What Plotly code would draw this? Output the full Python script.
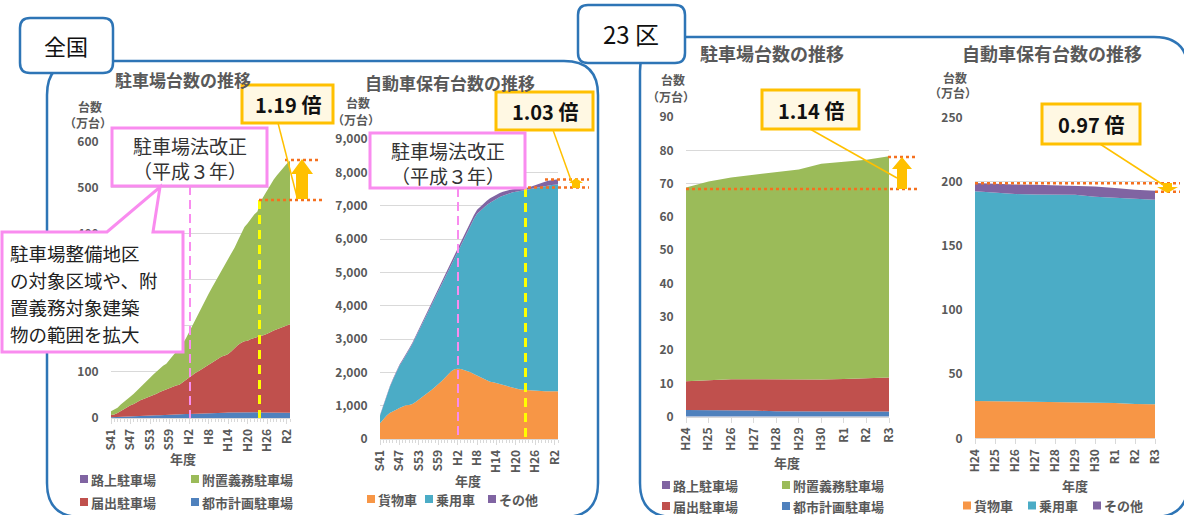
import plotly.graph_objects as go

W, H = 1184, 515
FONT = "Noto Sans CJK JP"
GRAY = "#595959"
GRID = "#D9D9D9"
PINK = "#F98CEF"
BLUE_FRAME = "#2E75B6"
GOLD = "#FFC000"
ORANGE_DOT = "#F5701F"

# ---------------- data ----------------
years = list(range(1966, 2022))            # S41 .. R3
era_tick_years = [1966, 1972, 1978, 1984, 1990, 1996, 2002, 2008, 2014, 2020]
era_tick_labels = ["S41", "S47", "S53", "S59", "H2", "H8", "H14", "H20", "H26", "R2"]
# y tick labels of the national parking chart (200 and 300 sit under the call-out box)
nat_park_ticks = [0, 100, 200, 300, 400, 500, 600]
nat_park_ticklabels = ["0", "100", "", "", "400", "500", "600"]

# 全国 駐車場台数 (万台)
nat_rojo = [0.1, 0.1, 0.1, 0.1, 0.1, 0.1, 0.1, 0.1, 0.1, 0.1, 0.1, 0.1, 0.1, 0.1,
            0.1, 0.1, 0.1, 0.1, 0.1, 0.1, 0.1, 0.1, 0.1, 0.1, 0.1, 0.1, 0.1, 0.1,
            0.1, 0.1, 0.1, 0.1, 0.1, 0.1, 0.1, 0.1, 0.1, 0.1, 0.1, 0.1, 0.1, 0.1,
            0.1, 0.1, 0.1, 0.1, 0.1, 0.1, 0.1, 0.1, 0.1, 0.1, 0.1, 0.1, 0.1, 0.1]
nat_toshi = [1.5, 1.7, 2.0, 2.4, 2.6, 3.1, 3.3, 3.5, 3.9, 4.3, 4.4, 4.8, 5.2, 5.3,
             5.6, 6.1, 6.2, 6.6, 7.0, 7.1, 7.4, 7.9, 8.0, 8.4, 8.8, 8.9, 9.2, 9.7,
             9.8, 10.2, 10.6, 10.7, 11.0, 11.3, 11.4, 11.5, 11.8, 12.0, 12.1, 12.3, 12.3, 12.4,
             12.5, 12.4, 12.3, 12.2, 12.1, 12.0, 11.9, 11.8, 11.6, 11.6, 11.5, 11.4, 11.4, 11.3]
nat_todokede = [5, 6, 9, 13, 16, 20, 24, 27, 31, 34, 37, 39, 42, 45, 47, 50, 53, 55, 58, 61,
                63, 64, 69, 75, 79, 84, 89, 92, 97, 101, 105, 109, 113, 117, 122, 124, 127,
                133, 140, 146, 151, 154, 155, 159, 161, 163, 165, 168, 171, 175, 178, 181,
                184, 186, 189, 192]
nat_fuchi = [8, 10, 11, 14, 16, 18, 19, 22, 25, 28, 32, 36, 40, 44, 48, 52, 54, 56, 61, 67,
             73, 80, 84, 89, 99, 107, 117, 128, 136, 145, 154, 163, 171, 179, 187, 196, 205,
             211, 218, 227, 237, 248, 255, 261, 268, 273, 293, 302, 311, 321, 328, 334, 340,
             346, 351, 355]

# 全国 自動車保有台数 (万台)
nat_kamotsu = [470, 600, 700, 780, 840, 880, 930, 970, 1010, 1020, 1050, 1110, 1180, 1250,
               1320, 1400, 1480, 1560, 1640, 1730, 1830, 1930, 2030, 2090, 2110, 2100, 2070,
               2040, 2000, 1950, 1900, 1850, 1800, 1760, 1720, 1700, 1680, 1650, 1620, 1600,
               1570, 1540, 1510, 1490, 1480, 1470, 1460, 1450, 1445, 1440, 1435, 1430, 1430,
               1430, 1430, 1430]
nat_joyo = [230, 400, 580, 770, 940, 1120, 1270, 1380, 1490, 1660, 1800, 1940, 2070, 2200,
            2330, 2450, 2570, 2690, 2810, 2920, 3020, 3070, 3220, 3360, 3540, 3750, 3980,
            4190, 4400, 4650, 4860, 5000, 5150, 5260, 5370, 5450, 5530, 5610, 5680, 5740,
            5800, 5860, 5910, 5950, 5980, 6000, 6030, 6060, 6085, 6110, 6135, 6160, 6180,
            6190, 6200, 6210]
nat_sonota = [20, 20, 25, 25, 30, 30, 30, 35, 35, 35, 40, 40, 40, 45, 45, 45, 50, 50, 50, 55,
              55, 60, 60, 65, 70, 75, 80, 90, 100, 110, 120, 125, 130, 130, 130, 130, 125,
              120, 115, 110, 100, 90, 80, 70, 65, 60, 55, 70, 90, 110, 120, 130, 140, 145,
              150, 150]

# 23区
ku_years = ["H24", "H25", "H26", "H27", "H28", "H29", "H30", "R1", "R2", "R3"]
ku_rojo = [0.04, 0.04, 0.04, 0.04, 0.04, 0.04, 0.04, 0.04, 0.04, 0.04]
ku_toshi = [2.0, 2.0, 1.9, 1.8, 1.6, 1.5, 1.5, 1.5, 1.5, 1.5]
ku_todokede = [8.6, 8.9, 9.3, 9.4, 9.5, 9.5, 9.6, 9.8, 10.1, 10.2]
ku_fuchi = [58.2, 59.7, 60.6, 61.4, 62.3, 63.2, 64.8, 65.1, 65.5, 66.5]

ku_kamotsu = [29.1, 28.9, 28.7, 28.5, 28.3, 28.0, 27.8, 27.5, 26.8, 26.6]
ku_joyo = [163.6, 162.6, 161.8, 161.6, 161.7, 161.9, 160.7, 160.0, 159.8, 159.4]
ku_sonota = [6.5, 7.0, 7.5, 7.7, 7.5, 7.3, 8.0, 7.7, 7.2, 7.0]

callout_lines = ["駐車場整備地区", "の対象区域や、附", "置義務対象建築", "物の範囲を拡大"]

C_ROJO, C_FUCHI, C_TODO, C_TOSHI = "#8064A2", "#9BBB59", "#C0504D", "#4F81BD"
C_KAMO, C_JOYO, C_SONO = "#F79646", "#4BACC6", "#8064A2"

# ---------------- helpers ----------------
def px(x, y):
    return x / W, 1 - y / H

def rect(x0, y0, x1, y1, line=None, fill=None, lw=2.5, dash=None):
    a, b = px(x0, y1)
    c, d = px(x1, y0)
    ln = dict(color=line or "rgba(0,0,0,0)", width=lw if line else 0)
    if dash:
        ln["dash"] = dash
    return dict(type="rect", xref="paper", yref="paper", x0=a, y0=b, x1=c, y1=d,
                line=ln, fillcolor=fill or "rgba(0,0,0,0)", layer="above")

def seg(x0, y0, x1, y1, color, lw=2, dash=None):
    a, b = px(x0, y0)
    c, d = px(x1, y1)
    ln = dict(color=color, width=lw)
    if dash:
        ln["dash"] = dash
    return dict(type="line", xref="paper", yref="paper", x0=a, y0=b, x1=c, y1=d,
                line=ln, layer="above")

def pt(x, y):
    a, b = px(x, y)
    return f"{a:.5f},{b:.5f}"

def poly(points, line, fill, lw=2.5):
    p = "M " + " L ".join(pt(x, y) for x, y in points) + " Z"
    return dict(type="path", xref="paper", yref="paper", path=p,
                line=dict(color=line or "rgba(0,0,0,0)", width=lw if line else 0),
                fillcolor=fill or "rgba(0,0,0,0)", layer="above")

def rrect(x0, y0, x1, y1, r, line, fill, lw=2.5):
    p = (f"M {pt(x0 + r, y0)} L {pt(x1 - r, y0)} Q {pt(x1, y0)} {pt(x1, y0 + r)} "
         f"L {pt(x1, y1 - r)} Q {pt(x1, y1)} {pt(x1 - r, y1)} "
         f"L {pt(x0 + r, y1)} Q {pt(x0, y1)} {pt(x0, y1 - r)} "
         f"L {pt(x0, y0 + r)} Q {pt(x0, y0)} {pt(x0 + r, y0)} Z")
    return dict(type="path", xref="paper", yref="paper", path=p,
                line=dict(color=line, width=lw), fillcolor=fill or "rgba(0,0,0,0)",
                layer="above")

annotations = []

def text(x, y, s, size=13, color=GRAY, bold=False, xanchor="center", align="center"):
    a, b = px(x, y)
    annotations.append(dict(x=a, y=b, xref="paper", yref="paper", text=(f"<b>{s}</b>" if bold else s),
                            showarrow=False, xanchor=xanchor, yanchor="middle", align=align,
                            borderpad=0,
                            font=dict(family=FONT, size=size, color=color)))

# ---------------- figure ----------------
fig = go.Figure()

def area(x, y, name, color, xa, ya, group):
    fig.add_trace(go.Scatter(x=x, y=y, name=name, mode="lines", stackgroup=group,
                             line=dict(width=0, color=color), fillcolor=color,
                             xaxis=xa, yaxis=ya, showlegend=False, hoverinfo="skip"))

area(years, nat_rojo, "路上駐車場", C_ROJO, "x", "y", "g1")
area(years, nat_toshi, "都市計画駐車場", C_TOSHI, "x", "y", "g1")
area(years, nat_todokede, "届出駐車場", C_TODO, "x", "y", "g1")
area(years, nat_fuchi, "附置義務駐車場", C_FUCHI, "x", "y", "g1")

area(years, nat_kamotsu, "貨物車", C_KAMO, "x2", "y2", "g2")
area(years, nat_joyo, "乗用車", C_JOYO, "x2", "y2", "g2")
area(years, nat_sonota, "その他", C_SONO, "x2", "y2", "g2")

area(ku_years, ku_rojo, "路上駐車場", C_ROJO, "x3", "y3", "g3")
area(ku_years, ku_toshi, "都市計画駐車場", C_TOSHI, "x3", "y3", "g3")
area(ku_years, ku_todokede, "届出駐車場", C_TODO, "x3", "y3", "g3")
area(ku_years, ku_fuchi, "附置義務駐車場", C_FUCHI, "x3", "y3", "g3")

area(ku_years, ku_kamotsu, "貨物車", C_KAMO, "x4", "y4", "g4")
area(ku_years, ku_joyo, "乗用車", C_JOYO, "x4", "y4", "g4")
area(ku_years, ku_sonota, "その他", C_SONO, "x4", "y4", "g4")

tickfont = dict(family=FONT, size=12, color=GRAY, weight="bold")

def xaxis_era(dom, anchor):
    return dict(domain=dom, anchor=anchor, range=[1966, 2021], tickmode="array",
                tickvals=era_tick_years, ticktext=era_tick_labels, tickangle=-90,
                ticks="outside", ticklen=5, tickcolor=GRID, showline=True, linecolor=GRID,
                showgrid=False, zeroline=False, tickfont=tickfont, automargin=False,
                minor=dict(tickmode="linear", tick0=1966, dtick=1, ticks="outside",
                           ticklen=3, tickcolor=GRID, showgrid=False))

def xaxis_ku(dom, anchor):
    return dict(domain=dom, anchor=anchor, type="category", range=[0, 9], tickangle=-90,
                ticks="outside", ticklen=5, tickcolor=GRID, showline=True, linecolor=GRID,
                showgrid=False, zeroline=False, tickfont=tickfont, automargin=False)

def yaxis(dom, anchor, rng, dtick, fmt=None):
    d = dict(domain=dom, anchor=anchor, range=rng, dtick=dtick, showgrid=True,
             gridcolor=GRID, gridwidth=1, zeroline=False, showline=False, automargin=False,
             ticks="outside", ticklen=9, tickcolor="rgba(0,0,0,0)", tickfont=tickfont)
    if fmt:
        d["tickformat"] = fmt
    return d

y1 = yaxis([1 - 418 / H, 1 - 141.5 / H], "x", [0, 600], 100)
y1.update(tickmode="array", tickvals=nat_park_ticks, ticktext=nat_park_ticklabels)

fig.update_layout(
    width=W, height=H, autosize=False,
    margin=dict(l=0, r=0, t=0, b=0, pad=0, autoexpand=False),
    paper_bgcolor="white", plot_bgcolor="white",
    showlegend=False,
    xaxis=xaxis_era([111 / W, 290 / W], "y"),
    yaxis=y1,
    xaxis2=xaxis_era([380 / W, 558 / W], "y2"),
    yaxis2=yaxis([1 - 439 / H, 1 - 139 / H], "x2", [0, 9000], 1000, ","),
    xaxis3=xaxis_ku([686 / W, 889 / W], "y3"),
    yaxis3=yaxis([1 - 416.7 / H, 1 - 117 / H], "x3", [0, 90], 10),
    xaxis4=xaxis_ku([975 / W, 1155 / W], "y4"),
    yaxis4=yaxis([1 - 438.3 / H, 1 - 117.8 / H], "x4", [0, 250], 50),
)

shapes = []
# frames
shapes.append(rrect(47, 61, 598, 517, 34, BLUE_FRAME, None, 2.5))
shapes.append(rrect(640, 37, 1188, 517, 34, BLUE_FRAME, None, 2.5))
shapes.append(rrect(20, 18, 113, 73, 10, BLUE_FRAME, "white", 2.5))
shapes.append(rrect(578, 5, 685, 63, 10, BLUE_FRAME, "white", 2.5))

# dashed markers
shapes.append(seg(190, 186, 190, 418, PINK, 2, "9px,5px"))
shapes.append(seg(458, 188, 458, 439, PINK, 2, "9px,5px"))
shapes.append(seg(259.5, 200, 259.5, 418, "#FFFF00", 3, "9px,6px"))
shapes.append(seg(525.5, 188, 525.5, 439, "#FFFF00", 3, "9px,6px"))

# dotted reference lines
shapes.append(seg(285, 160, 320, 160, ORANGE_DOT, 2.5, "dot"))
shapes.append(seg(259, 200, 322, 200, ORANGE_DOT, 2.5, "dot"))
shapes.append(seg(545, 179.5, 589, 179.5, ORANGE_DOT, 2.5, "dot"))
shapes.append(seg(528, 187.5, 589, 187.5, ORANGE_DOT, 2.5, "dot"))
shapes.append(seg(888, 157, 918, 157, ORANGE_DOT, 2.5, "dot"))
shapes.append(seg(686, 189, 918, 189, ORANGE_DOT, 2.5, "dot"))
shapes.append(seg(975, 183.3, 1180, 183.3, ORANGE_DOT, 2.5, "dot"))
shapes.append(seg(1155, 191.7, 1180, 191.7, ORANGE_DOT, 2.5, "dot"))

# leader lines
shapes.append(seg(278, 123, 297, 197, GOLD, 1.5))
shapes.append(seg(553, 130, 572, 183, GOLD, 1.5))
shapes.append(seg(810, 129, 897, 178, GOLD, 1.5))
shapes.append(seg(1100, 144, 1165, 186, GOLD, 1.5))

# arrows
shapes.append(poly([(302, 159), (313, 174), (308, 174), (308, 199), (296, 199), (296, 174), (291, 174)], None, GOLD))
shapes.append(poly([(902, 157), (912, 169), (907, 169), (907, 189), (897, 189), (897, 169), (892, 169)], None, GOLD))
shapes.append(poly([(576, 178), (583, 183), (580, 183), (580, 188), (572, 188), (572, 183), (569, 183)], None, GOLD))
shapes.append(poly([(1163, 183), (1172, 183), (1172, 187), (1178, 187), (1167.5, 193), (1157, 187), (1163, 187)], None, GOLD))

# multiplier boxes
shapes.append(rect(242, 85, 333, 123, GOLD, "#FFF8E3", 3))
shapes.append(rect(496, 92, 593, 130, GOLD, "#FFF8E3", 3))
shapes.append(rect(762, 90, 859, 129, GOLD, "#FFF8E3", 3))
shapes.append(rect(1042, 104, 1140, 144, GOLD, "#FFF8E3", 3))

# pink boxes
shapes.append(rect(112, 128, 267, 186, PINK, "white", 3))
shapes.append(rect(370, 133, 525, 188, PINK, "white", 3))
shapes.append(poly([(2, 232), (107, 232), (160, 187), (153, 232), (183, 232), (183, 352), (2, 352)], PINK, "white", 3))

# legend squares
for (x, y, c) in [(80, 479, C_ROJO), (191, 479, C_FUCHI), (80, 502, C_TODO), (191, 502, C_TOSHI),
                  (367, 499, C_KAMO), (425, 499, C_JOYO), (488, 499, C_SONO),
                  (662, 485, C_ROJO), (782, 485, C_FUCHI), (662, 506, C_TODO), (782, 506, C_TOSHI),
                  (963, 505.5, C_KAMO), (1028, 505.5, C_JOYO), (1093, 505.5, C_SONO)]:
    shapes.append(rect(x, y - 4, x + 8, y + 4, None, c))

fig.update_layout(shapes=shapes)

# ---------------- text ----------------
text(66, 45, "全国", 22, "#111111")
text(631, 34, "23 区", 24, "#111111")

text(183, 80, "駐車場台数の推移", 17, GRAY, True)
text(450, 82, "自動車保有台数の推移", 17, GRAY, True)
text(772, 53, "駐車場台数の推移", 18, GRAY, True)
text(1052, 53, "自動車保有台数の推移", 18, GRAY, True)

for (x, y) in [(90, 107), (358, 103), (673, 80), (955, 77)]:
    text(x, y, "台数", 12, GRAY, True)
    text(x - 2, y + 16, "（万台）", 12, GRAY, True)

text(183, 458, "年度", 13, GRAY, True)
text(468, 480, "年度", 13, GRAY, True)
text(787, 462, "年度", 13, GRAY, True)
text(1075, 485, "年度", 13, GRAY, True)

for (x, y, s) in [(90, 479, "路上駐車場"), (201, 479, "附置義務駐車場"), (90, 502, "届出駐車場"),
                  (201, 502, "都市計画駐車場"),
                  (377, 499, "貨物車"), (435, 499, "乗用車"), (498, 499, "その他"),
                  (672, 485, "路上駐車場"), (792, 485, "附置義務駐車場"), (672, 506, "届出駐車場"),
                  (792, 506, "都市計画駐車場"),
                  (973, 505.5, "貨物車"), (1038, 505.5, "乗用車"), (1103, 505.5, "その他")]:
    text(x, y, s, 13, GRAY, True, "left")

text(287.5, 104, "1.19 倍", 20, "#111111", True)
text(544.5, 111, "1.03 倍", 20, "#111111", True)
text(810.5, 110, "1.14 倍", 20, "#111111", True)
text(1091, 124, "0.97 倍", 20, "#111111", True)

text(190, 158, "駐車場法改正<br>（平成３年）", 19, "#333333")
text(448, 163, "駐車場法改正<br>（平成３年）", 19, "#333333")

for i, s in enumerate(callout_lines):
    text(9, 252.5 + i * 27, s, 18.5, "#222222", False, "left", "left")

fig.update_layout(annotations=annotations)

fig.write_html("out.html", config={"displayModeBar": False},
               post_script="document.body.style.margin='0';document.body.style.padding='0';")
